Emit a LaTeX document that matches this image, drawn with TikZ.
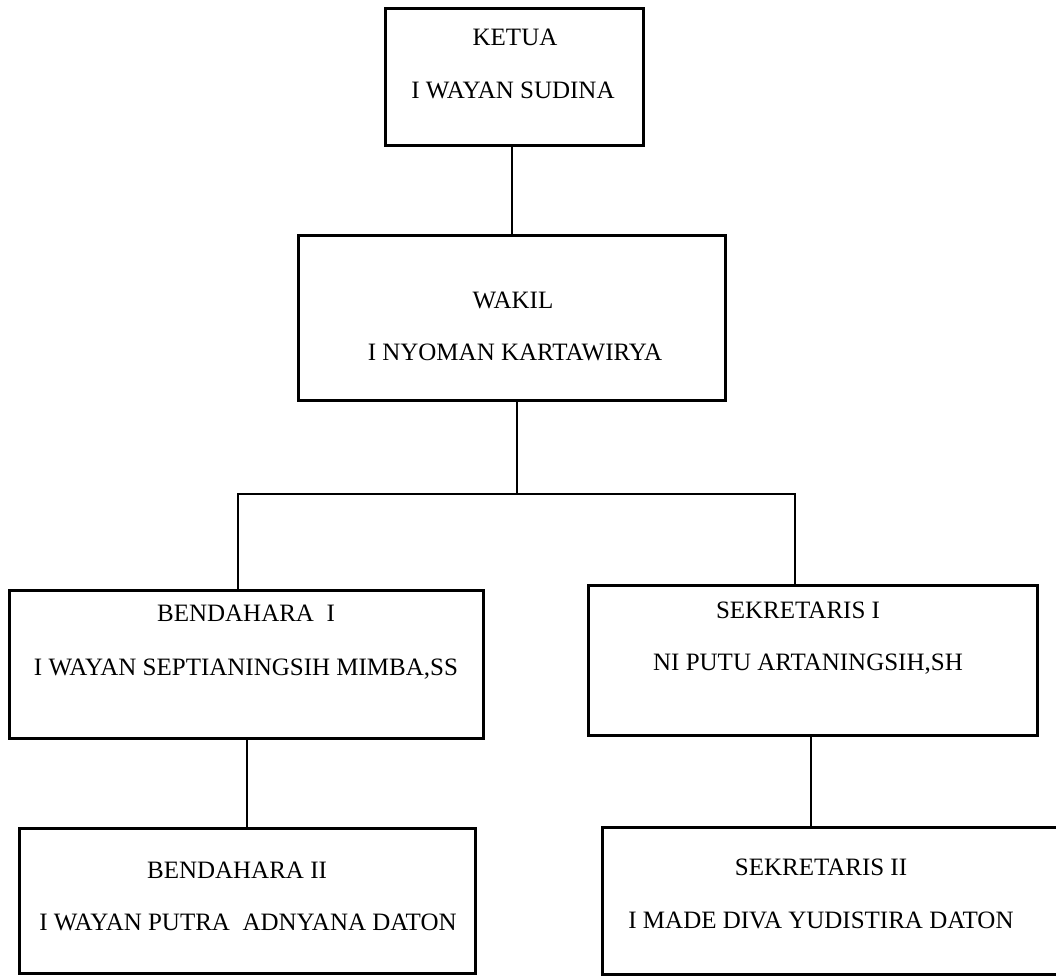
\documentclass[tikz,border=0pt]{standalone}
\usepackage{fontspec}
\setmainfont{Liberation Serif}
\begin{document}
\begin{tikzpicture}[x=1pt,y=-1pt,
  box/.style={draw=black,line width=3pt,rectangle,inner sep=0pt,fill=none},
  lbl/.style={font=\fontsize{25}{30}\selectfont,anchor=base,inner sep=0pt,text=black},
  conn/.style={draw=black,line width=2.2pt}]
\useasboundingbox[fill=white] (0,0) rectangle (1056,975);
% boxes
\node[box,minimum width=258pt,minimum height=137pt] (ketua) at (514,76.5) {};
\node[box,minimum width=427pt,minimum height=165pt] (wakil) at (511.5,317.5) {};
\node[box,minimum width=474pt,minimum height=148pt] (bend1) at (246,664) {};
\node[box,minimum width=449pt,minimum height=150pt] (sek1) at (812.5,660) {};
\node[box,minimum width=456pt,minimum height=145pt] (bend2) at (247,900.5) {};
\node[box,minimum width=470pt,minimum height=147pt] (sek2) at (837,900.5) {};
% texts
\node[lbl] (t1) at (515,45) {KETUA};
\node[lbl] (t2) at (513,98) {I WAYAN SUDINA};
\node[lbl] (t3) at (513,308) {WAKIL};
\node[lbl] (t4) at (515,360) {I NYOMAN KARTAWIRYA};
\node[lbl] (t5) at (246,621) {BENDAHARA\ \ I};
\node[lbl] (t6) at (246,675) {I WAYAN SEPTIANINGSIH MIMBA,SS};
\node[lbl] (t7) at (798,618) {SEKRETARIS I};
\node[lbl] (t8) at (808,670) {NI PUTU ARTANINGSIH,SH};
\node[lbl] (t9) at (237,878) {BENDAHARA II};
\node[lbl] (t10) at (248,930) {I WAYAN PUTRA\ \ ADNYANA DATON};
\node[lbl] (t11) at (821,875) {SEKRETARIS II};
\node[lbl] (t12) at (821,928) {I MADE DIVA YUDISTIRA DATON};
% junction coordinates
\coordinate (ck) at (512,0);
\coordinate (j) at (517,494);
\coordinate (jl) at (238,494);
\coordinate (jr) at (795,494);
\coordinate (cl) at (247,0);
\coordinate (cr) at (811,0);
% connectors
\draw[conn] (ketua.south -| ck) -- (wakil.north -| ck);
\draw[conn] (wakil.south -| j) -- (j);
\draw[conn] (bend1.north -| jl) -- (jl) -- (jr) -- (sek1.north -| jr);
\draw[conn] (bend1.south -| cl) -- (bend2.north -| cl);
\draw[conn] (sek1.south -| cr) -- (sek2.north -| cr);
\end{tikzpicture}
\end{document}
